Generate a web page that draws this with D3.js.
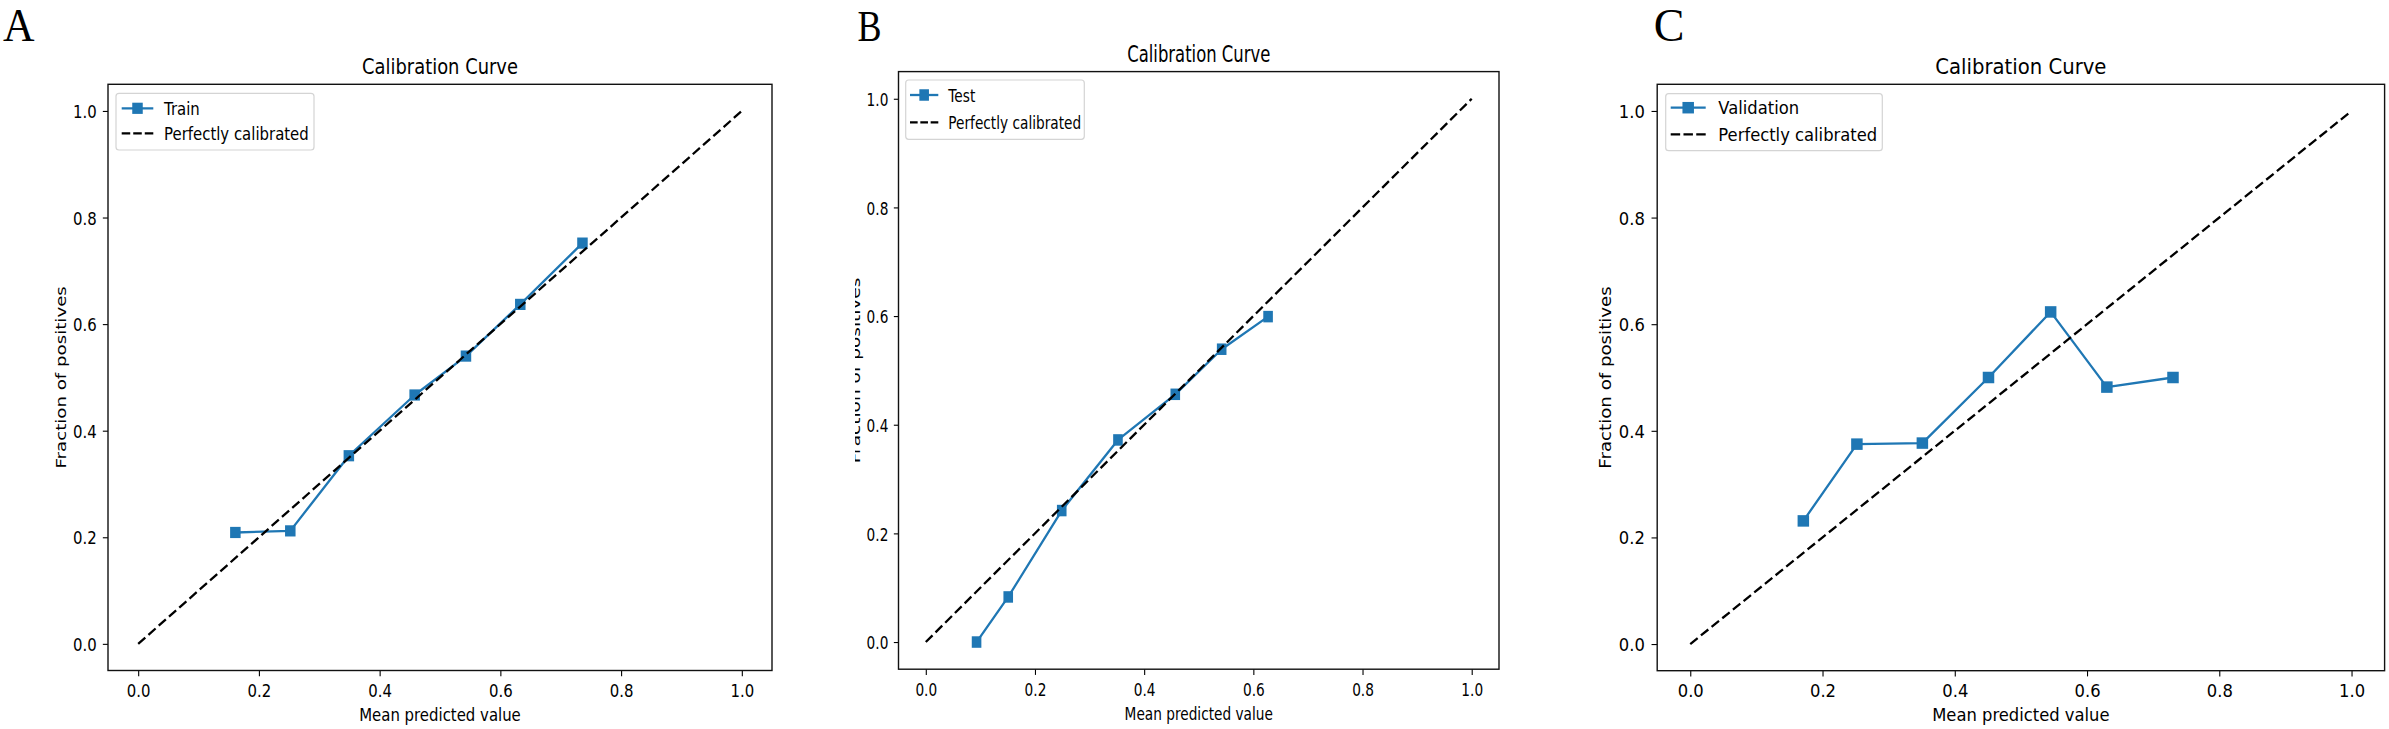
<!DOCTYPE html>
<html>
<head>
<meta charset="utf-8">
<script src="https://cdn.jsdelivr.net/npm/d3@7"></script>
<style>
  html, body { margin: 0; padding: 0; background: #fff; }
  svg { display: block; }
  text { font-family: "DejaVu Sans", sans-serif; fill: #000; }
</style>
</head>
<body>
<svg id="chart" width="2389" height="729"></svg>
<script>
// ---------------- data ----------------
const tickValues = [0.0, 0.2, 0.4, 0.6, 0.8, 1.0];
const tickLabels = ["0.0", "0.2", "0.4", "0.6", "0.8", "1.0"];
const panelLetters = ["A", "B", "C"];
const seriesNames = ["Train", "Test", "Validation"];
const refName = "Perfectly calibrated";
const titleText = "Calibration Curve";
const xLabelText = "Mean predicted value";
const yLabelText = "Fraction of positives";
const refX = [0, 1];
const refY = [0, 1];

const trainX = [0.161, 0.252, 0.349, 0.458, 0.543, 0.633, 0.736];
const trainY = [0.209, 0.212, 0.353, 0.467, 0.540, 0.637, 0.752];
const testX  = [0.093, 0.151, 0.249, 0.352, 0.457, 0.542, 0.627];
const testY  = [0.000, 0.083, 0.242, 0.372, 0.456, 0.539, 0.599];
const valX   = [0.171, 0.252, 0.351, 0.451, 0.545, 0.630, 0.730];
const valY   = [0.231, 0.375, 0.377, 0.500, 0.623, 0.482, 0.500];

// ---------------- layout ----------------
const panels = [
  { letter: panelLetters[0], name: seriesNames[0], xs: trainX, ys: trainY,
    left: 108, right: 772, top: 84.3, bottom: 670.5, sx: 0.82, fs: 18.2,
    letterX: 3, letterY: 41, letterSize: 46, letterSx: 0.95,
    legend: { x: 116, y: 93.3, w: 198, h: 56.7, row1: 108.3, row2: 133.3, hx0: 121.7, hx1: 153.3, tx: 164 },
    ylabelX: 60.5, clipYLabel: null, marker: [10.5, 11.2] },
  { letter: panelLetters[1], name: seriesNames[1], xs: testX, ys: testY,
    left: 898.5, right: 1499, top: 71.6, bottom: 669.2, sx: 0.74, fs: 18.5,
    letterX: 857.5, letterY: 40.5, letterSize: 45, letterSx: 0.8,
    legend: { x: 905.7, y: 80, w: 178.6, h: 59.3, row1: 95, row2: 122.3, hx0: 910, hx1: 938.3, tx: 948.3 },
    ylabelX: 855.5, clipYLabel: 855, marker: [9.6, 11.5] },
  { letter: panelLetters[2], name: seriesNames[2], xs: valX, ys: valY,
    left: 1657.2, right: 2384.6, top: 84.3, bottom: 670.7, sx: 0.9, fs: 18.2,
    letterX: 1653.7, letterY: 41, letterSize: 46, letterSx: 1.0,
    legend: { x: 1665.7, y: 93.7, w: 216.6, h: 57, row1: 107.7, row2: 134.3, hx0: 1670.7, hx1: 1705.7, tx: 1718.3 },
    ylabelX: 1605, clipYLabel: null, marker: [11.5, 11.5] }
];

const blue = "#1f77b4";
const svg = d3.select("#chart");
const defs = svg.append("defs");

function sText(g, x, y, str, opts) {
  const t = g.append("text")
    .attr("transform", `translate(${x},${y}) scale(${opts.sx},1)` + (opts.rot ? ` rotate(${opts.rot})` : ""))
    .attr("font-size", opts.fs)
    .attr("text-anchor", opts.anchor || "start")
    .text(str);
  if (opts.dy) t.attr("dy", opts.dy);
  if (opts.family) t.style("font-family", opts.family);
  return t;
}

panels.forEach((p, i) => {
  const g = svg.append("g");
  const x = d3.scaleLinear().domain([-0.05, 1.05]).range([p.left, p.right]);
  const y = d3.scaleLinear().domain([-0.05, 1.05]).range([p.bottom, p.top]);

  // panel letter
  sText(g, p.letterX, p.letterY, p.letter,
    { sx: p.letterSx, fs: p.letterSize, family: "'Liberation Serif', 'DejaVu Serif', serif" })
    .style("font-weight", "normal");

  // title
  sText(g, (p.left + p.right) / 2, p.top - 10, titleText,
    { sx: p.sx, fs: p.fs * 1.2, anchor: "middle" });

  // axes
  const tickLenX = 5.7;
  const tickLenY = 6.3 * p.sx;
  const xAxis = d3.axisBottom(x).tickValues(tickValues)
    .tickFormat((d, k) => tickLabels[k]).tickSizeOuter(0).tickSizeInner(tickLenX);
  const yAxis = d3.axisLeft(y).tickValues(tickValues)
    .tickFormat((d, k) => tickLabels[k]).tickSizeOuter(0).tickSizeInner(tickLenY);

  const gx = g.append("g").attr("transform", `translate(0,${p.bottom})`).call(xAxis);
  gx.select(".domain").remove();
  gx.selectAll(".tick line").attr("stroke", "#000").attr("stroke-width", 1.1);
  gx.selectAll(".tick text")
    .attr("y", null).attr("dy", null)
    .attr("transform", `translate(0,${26.5}) scale(${p.sx},1)`)
    .attr("font-size", p.fs).attr("font-family", "DejaVu Sans").attr("fill", "#000");

  const gy = g.append("g").attr("transform", `translate(${p.left},0)`).call(yAxis);
  gy.select(".domain").remove();
  gy.selectAll(".tick line").attr("stroke", "#000").attr("stroke-width", 1.1);
  gy.selectAll(".tick text")
    .attr("x", null).attr("dy", "0.36em")
    .attr("transform", `translate(${-12.3 * p.sx / 0.9},0) scale(${p.sx},1)`)
    .attr("font-size", p.fs).attr("font-family", "DejaVu Sans").attr("fill", "#000");

  // axis labels
  sText(g, (p.left + p.right) / 2, p.bottom + 50.5, xLabelText,
    { sx: p.sx, fs: p.fs, anchor: "middle" });

  const yl = g.append("g");
  if (p.clipYLabel !== null) {
    defs.append("clipPath").attr("id", "clipYL" + i)
      .append("rect").attr("x", p.clipYLabel).attr("y", 0).attr("width", 100).attr("height", 729);
    yl.attr("clip-path", `url(#clipYL${i})`);
  }
  sText(yl, p.ylabelX, (p.top + p.bottom) / 2, yLabelText,
    { sx: p.sx, fs: p.fs, anchor: "middle", rot: -90, dy: "0.36em" });

  // plot clip
  defs.append("clipPath").attr("id", "clipP" + i)
    .append("rect").attr("x", p.left).attr("y", p.top)
    .attr("width", p.right - p.left).attr("height", p.bottom - p.top);
  const plot = g.append("g").attr("clip-path", `url(#clipP${i})`);

  const line = d3.line().x(d => x(d[0])).y(d => y(d[1]));
  const pts = p.xs.map((v, k) => [v, p.ys[k]]);
  const ref = refX.map((v, k) => [v, refY[k]]);

  plot.append("path").datum(pts).attr("d", line)
    .attr("fill", "none").attr("stroke", blue).attr("stroke-width", 2.3)
    .attr("stroke-linejoin", "round");
  plot.selectAll("rect.mk").data(pts).enter().append("rect").attr("class", "mk")
    .attr("x", d => x(d[0]) - p.marker[0] / 2)
    .attr("y", d => y(d[1]) - p.marker[1] / 2)
    .attr("width", p.marker[0]).attr("height", p.marker[1])
    .attr("fill", blue);
  plot.append("path").datum(ref).attr("d", line)
    .attr("fill", "none").attr("stroke", "#000").attr("stroke-width", 2.3)
    .attr("stroke-dasharray", "9.5,4.2");

  // frame
  g.append("rect").attr("x", p.left).attr("y", p.top)
    .attr("width", p.right - p.left).attr("height", p.bottom - p.top)
    .attr("fill", "none").attr("stroke", "#111").attr("stroke-width", 1.4);

  // legend
  const L = p.legend;
  g.append("rect").attr("x", L.x).attr("y", L.y).attr("width", L.w).attr("height", L.h)
    .attr("rx", 3).attr("ry", 3)
    .attr("fill", "#fff").attr("fill-opacity", 0.8)
    .attr("stroke", "#d4d4d4").attr("stroke-width", 1.2);
  g.append("line").attr("x1", L.hx0).attr("x2", L.hx1).attr("y1", L.row1).attr("y2", L.row1)
    .attr("stroke", blue).attr("stroke-width", 2.3);
  g.append("rect")
    .attr("x", (L.hx0 + L.hx1) / 2 - p.marker[0] / 2).attr("y", L.row1 - p.marker[1] / 2)
    .attr("width", p.marker[0]).attr("height", p.marker[1]).attr("fill", blue);
  g.append("line").attr("x1", L.hx0).attr("x2", L.hx1).attr("y1", L.row2).attr("y2", L.row2)
    .attr("stroke", "#000").attr("stroke-width", 2.3)
    .attr("stroke-dasharray", `${(L.hx1 - L.hx0) * 0.27},${(L.hx1 - L.hx0) * 0.095}`);
  sText(g, L.tx, L.row1, p.name, { sx: p.sx, fs: p.fs, dy: "0.36em" });
  sText(g, L.tx, L.row2, refName, { sx: p.sx, fs: p.fs, dy: "0.36em" });
});
</script>
</body>
</html>
